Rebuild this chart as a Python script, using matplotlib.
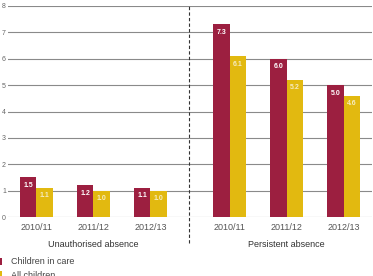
import numpy as np
import matplotlib
matplotlib.use("Agg")
import matplotlib.pyplot as plt

plt.rcParams['font.family'] = ['Liberation Sans', 'DejaVu Sans']

years = ["2010/11", "2011/12", "2012/13"]
groups = ["Unauthorised absence", "Persistent absence"]
care_unauth = [1.5, 1.2, 1.1]
all_unauth = [1.1, 1.0, 1.0]
care_persist = [7.3, 6.0, 5.0]
all_persist = [6.1, 5.2, 4.6]

crimson = "#9c1f40"
yellow = "#e2b910"
width = 0.29

fig = plt.figure(figsize=(3.73, 2.76), dpi=100)
ax = fig.add_axes([8 / 373, 59 / 276, 364 / 373, 211 / 276])

x1 = np.arange(3)
x2 = np.arange(3) + 3.39
xs = np.concatenate([x1, x2])
care = care_unauth + care_persist
allc = all_unauth + all_persist

b1 = ax.bar(xs - width / 2, care, width, color=crimson, label="Children in care", zorder=3)
b2 = ax.bar(xs + width / 2, allc, width, color=yellow, label="All children", zorder=3)

for rect, v in zip(b1, care):
    ax.text(rect.get_x() + rect.get_width() / 2, v - 0.17, f"{v:.1f}", ha="center", va="top",
            color="white", fontsize=5, fontweight="bold", zorder=4)
for rect, v in zip(b2, allc):
    ax.text(rect.get_x() + rect.get_width() / 2, v - 0.17, f"{v:.1f}", ha="center", va="top",
            color="#f6ecc0", fontsize=5, fontweight="bold", zorder=4)

ax.set_xlim(-0.5, 5.886)
ax.set_ylim(0, 8)
ax.set_yticks(range(0, 9))
ax.yaxis.grid(True, color="#8a8a8a", linewidth=0.8, zorder=0)
ax.tick_params(axis="y", length=0, labelsize=5, labelcolor="#666666", pad=1.5)
ax.set_xticks(xs)
ax.set_xticklabels(years * 2)
ax.tick_params(axis="x", length=0, labelsize=6.5, labelcolor="#555555", pad=4)
for s in ax.spines.values():
    s.set_visible(False)

ax.axvline(2.675, ymin=-0.125, ymax=1, color="#333333", linestyle=(0, (3, 2)),
           linewidth=0.8, clip_on=False)

ax.text(1, -0.11, groups[0], transform=ax.get_xaxis_transform(), ha="center", va="top",
        fontsize=6.5, color="#333333")
ax.text(4.39, -0.11, groups[1], transform=ax.get_xaxis_transform(), ha="center", va="top",
        fontsize=6.5, color="#333333")

fig.legend(handles=[b1, b2], loc="upper left", bbox_to_anchor=(-0.035, 0.097),
           frameon=False, fontsize=6.5, handlelength=0.8, handleheight=0.8,
           handletextpad=1.0, labelspacing=0.5, labelcolor="#444444")

fig.savefig("out.png", dpi=100)
